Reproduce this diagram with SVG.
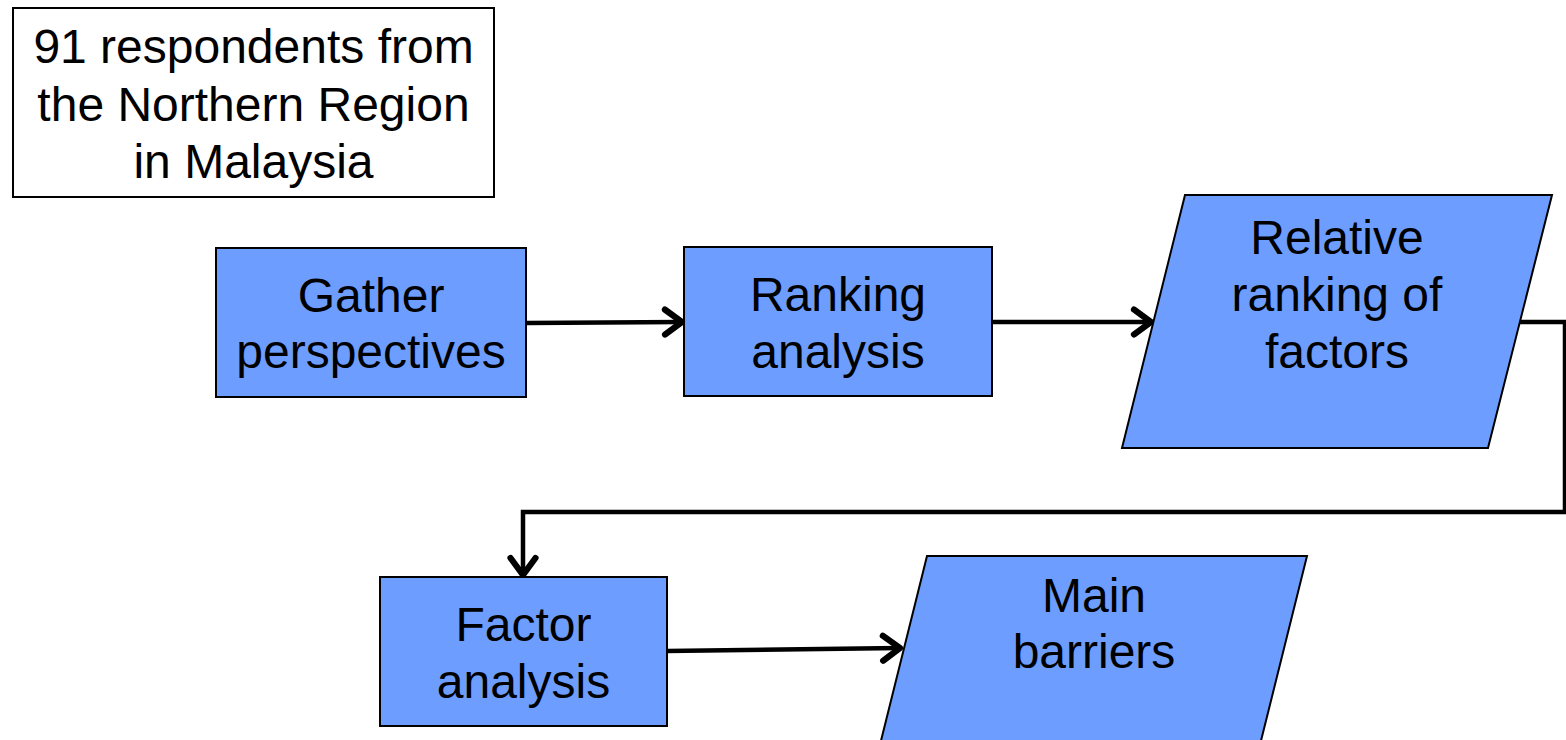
<svg xmlns="http://www.w3.org/2000/svg" width="1566" height="740" viewBox="0 0 1566 740">
<style>
.box{fill:#6d9eff;stroke:#000;stroke-width:2}
.note{fill:#fff;stroke:#000;stroke-width:2}
.lbl{font-family:"Liberation Sans",Arial,sans-serif;font-size:48px;fill:#000;text-anchor:middle}
.con{fill:none;stroke:#000;stroke-width:4.5}
</style>
<defs>
<marker id="arr" markerUnits="userSpaceOnUse" markerWidth="34" markerHeight="34" viewBox="-20 -15 30 30" refX="0" refY="0" orient="auto" overflow="visible">
<path d="M-15,-11 L0,0 L-15,11" fill="none" stroke="#000" stroke-width="5.5" stroke-linecap="round" stroke-linejoin="round"/>
</marker>
</defs>
<rect width="1566" height="740" fill="#fff"/>
<g id="connectors">
<path class="con" d="M526,323 L682,322" marker-end="url(#arr)"/>
<path class="con" d="M992,322 L1151,322" marker-end="url(#arr)"/>
<path class="con" d="M1515,322 L1565,322 L1565,512 L523,512 L523,575" marker-end="url(#arr)"/>
<path class="con" d="M667,651 L900,648" marker-end="url(#arr)"/>
</g>
<g id="n-respondents">
<rect class="note" x="13" y="8" width="481" height="189"/>
<text class="lbl" x="253.5" y="63">91 respondents from</text>
<text class="lbl" x="253.5" y="121">the Northern Region</text>
<text class="lbl" x="253.5" y="178">in Malaysia</text>
</g>
<g id="n-gather">
<rect class="box" x="216" y="248" width="310" height="149"/>
<text class="lbl" x="371" y="312">Gather</text>
<text class="lbl" x="371" y="368">perspectives</text>
</g>
<g id="n-ranking">
<rect class="box" x="684" y="247" width="308" height="149"/>
<text class="lbl" x="838" y="311">Ranking</text>
<text class="lbl" x="838" y="368">analysis</text>
</g>
<g id="n-relative">
<polygon class="box" points="1185,195 1552,195 1488,448 1122,448"/>
<text class="lbl" x="1337" y="254">Relative</text>
<text class="lbl" x="1337" y="311">ranking of</text>
<text class="lbl" x="1337" y="368">factors</text>
</g>
<g id="n-factor">
<rect class="box" x="380" y="577" width="287" height="149"/>
<text class="lbl" x="523.5" y="641">Factor</text>
<text class="lbl" x="523.5" y="698">analysis</text>
</g>
<g id="n-barriers">
<polygon class="box" points="927,556 1307,556 1244,809 864,809"/>
<text class="lbl" x="1094" y="612">Main</text>
<text class="lbl" x="1094" y="668">barriers</text>
</g>
</svg>
